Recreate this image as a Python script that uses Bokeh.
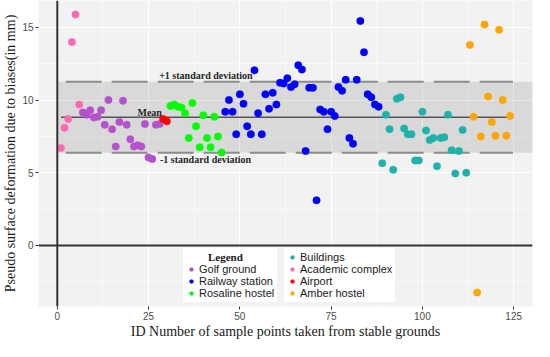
import numpy as np
from bokeh.plotting import figure
from bokeh.models import Range1d, FixedTicker, Legend, LegendItem, Label, Span
from bokeh.embed import file_html
from bokeh.resources import INLINE

# ---------------- data ----------------
categories = ["Golf ground", "Railway station", "Rosaline hostel",
              "Buildings", "Academic complex", "Airport", "Amber hostel"]
colors = ["#B452CD", "#0000FF", "#00FF00", "#20B2AA", "#FF69B4", "#FF0000", "#FFA500"]

academic_ids = [1, 2, 3, 4, 5, 6]
academic_vals = [6.7, 8.1, 8.7, 14.0, 15.9, 9.7]

golf_ids = [7, 8, 9, 10, 11, 12, 13, 14, 15, 16, 17, 18, 19, 20, 21, 22, 23, 24, 25, 26, 27, 28]
golf_vals = [9.15, 9.0, 9.3, 8.8, 8.85, 9.3, 8.3, 10.0, 8.0, 6.8, 8.5, 9.95, 8.3, 7.3, 6.8,
             6.9, 6.8, 8.35, 6.05, 5.95, 8.3, 8.35]

airport_ids = [29, 30]
airport_vals = [8.7, 8.55]

rosaline_ids = [31, 32, 33, 34, 35, 36, 37, 38, 39, 40, 41, 42, 43, 44, 45]
rosaline_vals = [9.6, 9.7, 9.55, 9.5, 9.1, 7.4, 9.8, 8.2, 6.75, 8.95, 7.4, 6.75, 8.85, 7.5, 6.4]

railway_ids = [46, 47, 48, 49, 50, 51, 52, 53, 54, 55, 56, 57, 58, 59, 60, 61, 62, 63, 64, 65,
               66, 67, 68, 69, 70, 71, 72, 73, 74, 75, 76, 77, 78, 79, 80, 81, 82, 83, 84, 85,
               86, 87, 88]
railway_vals = [9.2, 10.0, 9.2, 7.65, 10.4, 9.75, 8.2, 7.65, 12.05, 9.1, 7.65, 10.4, 9.4, 10.5,
                9.7, 11.2, 11.15, 11.5, 10.9, 11.1, 12.4, 12.1, 6.5, 10.85, 10.85, 3.1, 9.35,
                9.2, 8.0, 9.2, 8.9, 10.9, 10.65, 11.4, 7.4, 7.0, 11.4, 15.45, 13.3, 10.4, 10.2,
                9.7, 9.55]

buildings_ids = [89, 90, 91, 92, 93, 94, 95, 96, 97, 98, 99, 100, 101, 102, 103, 104, 105, 106,
                 107, 108, 109, 110, 111, 112]
buildings_vals = [5.65, 9.0, 8.0, 5.2, 10.1, 10.2, 8.05, 7.65, 7.65, 5.85, 5.85, 9.2, 7.9, 7.25,
                  7.4, 5.45, 7.4, 7.45, 9.0, 6.55, 4.95, 6.5, 7.95, 5.0]

amber_ids = [113, 114, 115, 116, 117, 118, 119, 120, 121, 122, 123, 124]
amber_vals = [13.8, 8.85, -3.25, 7.5, 15.2, 10.25, 8.5, 7.55, 14.85, 10.0, 7.55, 8.9]

series = {
    "Golf ground": (golf_ids, golf_vals),
    "Railway station": (railway_ids, railway_vals),
    "Rosaline hostel": (rosaline_ids, rosaline_vals),
    "Buildings": (buildings_ids, buildings_vals),
    "Academic complex": (academic_ids, academic_vals),
    "Airport": (airport_ids, airport_vals),
    "Amber hostel": (amber_ids, amber_vals),
}
draw_order = ["Academic complex", "Golf ground", "Airport", "Rosaline hostel",
              "Railway station", "Buildings", "Amber hostel"]

x_ticks = [0, 25, 50, 75, 100, 125]
y_ticks = [0, 5, 10, 15]

# ---------------- derived statistics ----------------
all_ids = np.concatenate([series[c][0] for c in categories]).astype(float)
all_vals = np.concatenate([series[c][1] for c in categories]).astype(float)
mean_v = float(np.mean(all_vals))
sd_v = float(np.std(all_vals, ddof=1))

xpad = 0.05 * (all_ids.max() - all_ids.min())
ypad = 0.05 * (all_vals.max() - all_vals.min())
x0, x1 = all_ids.min() - xpad, all_ids.max() + xpad
y0, y1 = all_vals.min() - ypad, all_vals.max() + ypad

# ---------------- figure ----------------
p = figure(width=534, height=341, output_backend="svg", toolbar_location=None,
           x_range=Range1d(x0, x1), y_range=Range1d(y0, y1),
           min_border_left=0, min_border_right=2, min_border_top=0, min_border_bottom=0)
p.background_fill_color = "#F2F2F2"
p.border_fill_color = "white"
p.outline_line_color = None

for ax in (p.xaxis[0], p.yaxis[0]):
    ax.axis_line_color = None
    ax.major_tick_line_color = "#333333"
    ax.major_tick_out = 3
    ax.major_tick_in = 0
    ax.minor_tick_line_color = None
    ax.major_label_text_font = "Liberation Sans"
    ax.major_label_text_font_size = "10px"
    ax.major_label_text_color = "#4D4D4D"
    ax.major_label_standoff = 1
    ax.axis_label_text_font = "Liberation Serif"
    ax.axis_label_text_font_size = "14px"
    ax.axis_label_text_font_style = "normal"
    ax.axis_label_text_color = "#1A1A1A"
    ax.axis_label_standoff = 1

p.xaxis.ticker = FixedTicker(ticks=x_ticks, minor_ticks=[12.5, 37.5, 62.5, 87.5, 112.5])
p.yaxis.ticker = FixedTicker(ticks=y_ticks, minor_ticks=[-2.5, 2.5, 7.5, 12.5])
p.xaxis.axis_label = "ID Number of sample points taken from stable grounds"
p.yaxis.axis_label = "Pseudo surface deformation due to biases(in mm)"

p.xgrid.grid_line_color = "white"
p.ygrid.grid_line_color = "white"
p.xgrid.grid_line_width = 1.1
p.ygrid.grid_line_width = 1.1
p.xgrid.minor_grid_line_color = "white"
p.ygrid.minor_grid_line_color = "white"
p.xgrid.minor_grid_line_width = 0.5
p.ygrid.minor_grid_line_width = 0.5

# +/- 1 sd band
p.quad(left=[0], right=[x1], bottom=[mean_v - sd_v], top=[mean_v + sd_v],
       fill_color="black", fill_alpha=0.1, line_alpha=0)
# dashed sd lines
for lvl in (mean_v + sd_v, mean_v - sd_v):
    p.line([2.3, 124.8], [lvl, lvl], line_color="#8C8C8C", line_width=2, line_dash="36 10")
# mean line
p.line([1, 124], [mean_v, mean_v], line_color="#555555", line_width=1.5)

# axes cross lines
p.add_layout(Span(location=0, dimension="height", line_color="#333333", line_width=2))
p.add_layout(Span(location=0, dimension="width", line_color="#333333", line_width=2))

renderers = {}
for c in draw_order:
    ids, vals = series[c]
    col = colors[categories.index(c)]
    renderers[c] = p.scatter(ids, vals, size=7.5, fill_color=col, line_color=col, line_width=0.3)

# text annotations
txt = dict(text_font="Liberation Serif", text_font_style="bold", text_font_size="10px",
           text_color="#262626", text_align="center", text_baseline="middle")
p.add_layout(Label(x=40.7, y=mean_v + sd_v + 0.4, text="+1 standard deviation", **txt))
p.add_layout(Label(x=40.6, y=mean_v - sd_v - 0.45, text="-1 standard deviation", **txt))
p.add_layout(Label(x=25.3, y=mean_v + 0.3, text="Mean", **txt))

# legend: two white columns side by side, the first one titled
leg_style = dict(background_fill_color="white", background_fill_alpha=1,
                 border_line_alpha=0, label_text_font="Liberation Sans",
                 label_text_font_size="11px", label_text_color="#1A1A1A",
                 glyph_width=10, glyph_height=12, label_height=12, spacing=0,
                 padding=3, margin=0, label_standoff=3, orientation="vertical")
col1 = categories[:3]
col2 = categories[3:]
legend_a = Legend(items=[LegendItem(label=c, renderers=[renderers[c]]) for c in col1],
                  location=(145, 4), title="\u2002\u2002\u2002\u2002Legend",
                  title_text_font="Liberation Serif", title_text_font_style="bold",
                  title_text_font_size="11px", title_text_color="#1A1A1A",
                  title_standoff=0, **leg_style)
legend_b = Legend(items=[LegendItem(label=c, renderers=[renderers[c]]) for c in col2],
                  location=(246, 4), **leg_style)
p.add_layout(legend_a, "center")
p.add_layout(legend_b, "center")

open("out.html", "w").write(file_html(p, INLINE))
